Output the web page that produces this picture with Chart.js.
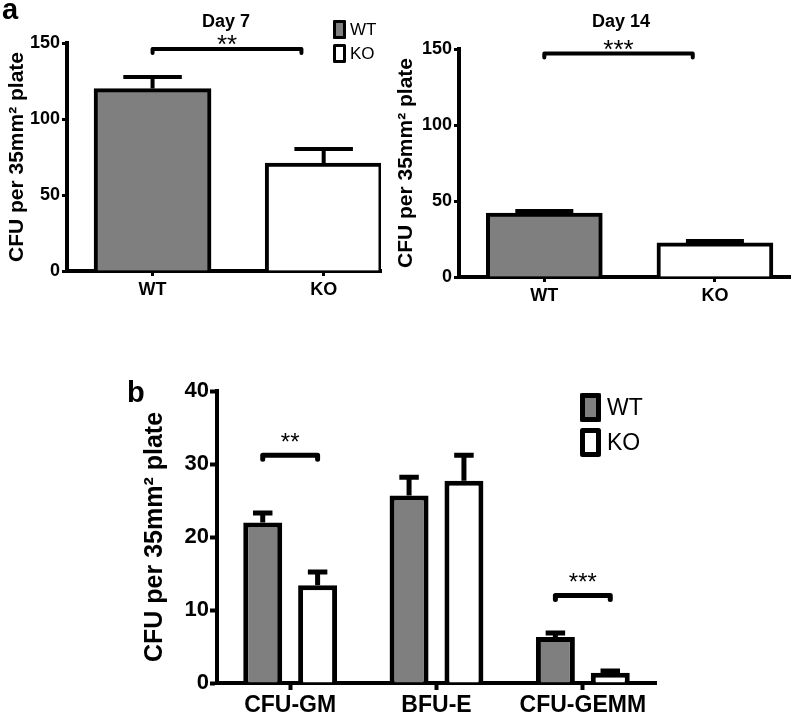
<!DOCTYPE html>
<html>
<head>
<meta charset="utf-8">
<script src="https://cdn.jsdelivr.net/npm/chart.js@4.4.1/dist/chart.umd.min.js"></script>
<style>
  body { margin: 0; background: #fff; }
  #wrap { position: relative; width: 798px; height: 716px; overflow: hidden; }
  .panel { position: absolute; }
</style>
</head>
<body>
<div id="wrap">
  <div class="panel" style="left:0;top:0;width:400px;height:310px"><canvas id="day7"></canvas></div>
  <div class="panel" style="left:396px;top:0;width:402px;height:310px"><canvas id="day14"></canvas></div>
  <div class="panel" style="left:100px;top:360px;width:600px;height:356px"><canvas id="panelB"></canvas></div>
</div>
<script>
const groups = ["WT", "KO"];
const barColors = ["#7f7f7f", "#ffffff"];
const day7Means = [120, 71];
const day7Sem = [7.6, 9.3];
const day14Means = [42, 22.4];
const day14Sem = [1.5, 1.3];
const topTicks = [0, 50, 100, 150];

const colonyTypes = ["CFU-GM", "BFU-E", "CFU-GEMM"];
const wtMeans = [22, 25.7, 6.3];
const wtSem = [1.3, 2.5, 0.55];
const koMeans = [13.4, 27.7, 1.4];
const koSem = [1.8, 3.5, 0.25];
const bottomTicks = [0, 10, 20, 30, 40];

const yTitle = "CFU per 35mm\u00b2 plate";
const FONT = "'Liberation Sans', Arial, sans-serif";

Chart.defaults.font.family = FONT;
Chart.defaults.color = "#000";

// error bars, significance brackets, titles, panel letters, legends
const decorations = {
  id: "decorations",
  afterDatasetsDraw(chart, args, opts) {
    const ctx = chart.ctx;
    const xs = chart.scales.x;
    const ys = chart.scales.y;
    ctx.save();
    ctx.strokeStyle = "#000";
    ctx.fillStyle = "#000";

    chart.data.datasets.forEach((ds, di) => {
      const meta = chart.getDatasetMeta(di);
      meta.data.forEach((bar, i) => {
        const parsed = meta.controller.getParsed(i);
        const top = ys.getPixelForValue(parsed.y + ds.sem[i]);
        ctx.lineWidth = opts.errWidth;
        ctx.lineCap = "butt";
        ctx.beginPath();
        ctx.moveTo(bar.x, bar.y);
        ctx.lineTo(bar.x, top);
        ctx.moveTo(bar.x - bar.width / 4, top);
        ctx.lineTo(bar.x + bar.width / 4, top);
        ctx.stroke();
      });
    });

    (opts.brackets || []).forEach((b) => {
      let x0, x1;
      if (b.index !== undefined) {
        x0 = chart.getDatasetMeta(0).data[b.index].x;
        x1 = chart.getDatasetMeta(1).data[b.index].x;
      } else {
        x0 = xs.getPixelForValue(b.from);
        x1 = xs.getPixelForValue(b.to);
      }
      const y = ys.getPixelForValue(b.y);
      ctx.lineWidth = opts.bracketWidth;
      ctx.lineCap = "round";
      ctx.lineJoin = "round";
      ctx.beginPath();
      ctx.moveTo(x0, y + 4);
      ctx.lineTo(x0, y);
      ctx.lineTo(x1, y);
      ctx.lineTo(x1, y + 4);
      ctx.stroke();
      ctx.font = opts.starFont;
      ctx.textAlign = "center";
      ctx.textBaseline = "alphabetic";
      ctx.fillText(b.label, (x0 + x1) / 2, y + opts.starShift);
    });

    if (opts.title) {
      ctx.font = opts.title.font;
      ctx.textAlign = "center";
      ctx.textBaseline = "middle";
      ctx.fillText(opts.title.text, opts.title.x, opts.title.y);
    }
    if (opts.letter) {
      ctx.font = opts.letter.font;
      ctx.textAlign = "left";
      ctx.textBaseline = "alphabetic";
      ctx.fillText(opts.letter.text, opts.letter.x, opts.letter.y);
    }
    if (opts.legend) {
      const L = opts.legend;
      L.items.forEach((it, k) => {
        const top = L.y + k * (L.boxH + L.gap);
        ctx.fillStyle = it.color;
        ctx.fillRect(L.x, top, L.boxW, L.boxH);
        ctx.lineWidth = L.border;
        ctx.strokeStyle = "#000";
        ctx.strokeRect(L.x + L.border / 2, top + L.border / 2, L.boxW - L.border, L.boxH - L.border);
        ctx.fillStyle = "#000";
        ctx.font = L.font;
        ctx.textAlign = "left";
        ctx.textBaseline = "middle";
        ctx.fillText(it.label, L.x + L.boxW + L.textGap, top + L.boxH / 2 + 1);
      });
    }
    ctx.restore();
  }
};

function axisCommon(tickLen, tickWidth) {
  return {
    grid: { display: true, offset: false, drawOnChartArea: false, drawTicks: true, tickLength: tickLen, tickColor: "#000", tickWidth: tickWidth },
    border: { display: true, color: "#000", width: 4 }
  };
}

function makeTopChart(id, means, sem, cfg) {
  return new Chart(document.getElementById(id), {
    type: "bar",
    data: {
      datasets: [{
        data: means.map((v, i) => ({ x: i, y: v })),
        sem: sem,
        backgroundColor: barColors,
        borderColor: "#000",
        borderWidth: 4,
        barThickness: cfg.barThickness
      }]
    },
    plugins: [decorations],
    options: {
      responsive: true,
      maintainAspectRatio: false,
      animation: false,
      devicePixelRatio: 1,
      layout: { padding: { top: cfg.top, right: cfg.right, left: 0, bottom: 0 } },
      scales: {
        x: {
          type: "linear",
          offset: false,
          min: -0.5,
          max: cfg.xMax,
          afterBuildTicks: (s) => { s.ticks = groups.map((g, i) => ({ value: i })); },
          afterFit: (s) => { s.height = cfg.xHeight; },
          ticks: { callback: (v) => groups[v], font: { size: 18, weight: "bold" }, padding: 3, maxRotation: 0 },
          ...axisCommon(5, 3)
        },
        y: {
          min: 0,
          max: 150,
          afterBuildTicks: (s) => { s.ticks = topTicks.map((v) => ({ value: v })); },
          afterFit: (s) => { s.width = cfg.yWidth; },
          ticks: { font: { size: 18, weight: "bold" }, padding: 2 },
          title: { display: true, text: yTitle, font: { size: 21, weight: "bold", lineHeight: 1 }, padding: { top: cfg.titlePad, bottom: 0 } },
          ...axisCommon(5, 3)
        }
      },
      plugins: {
        legend: { display: false },
        tooltip: { enabled: false },
        decorations: {
          errWidth: 4,
          bracketWidth: 4,
          starFont: "26px " + FONT,
          starShift: 4,
          brackets: [{ from: 0, to: 0.87, y: cfg.bracketY, label: cfg.stars }],
          title: { text: cfg.title, x: cfg.titleX, y: 22, font: "bold 18px " + FONT },
          letter: cfg.letter,
          legend: cfg.legend
        }
      }
    }
  });
}

makeTopChart("day7", day7Means, day7Sem, {
  top: 43, right: 19, yWidth: 67, xHeight: 39, xMax: 1.335, barThickness: 117,
  titlePad: 7, bracketY: 146, stars: "**",
  title: "Day 7", titleX: 226,
  letter: { text: "a", x: 2, y: 19, font: "bold 29px " + FONT },
  legend: {
    x: 333, y: 20, boxW: 13, boxH: 19, gap: 5, border: 3, textGap: 4,
    font: "17px " + FONT,
    items: groups.map((g, i) => ({ label: g, color: barColors[i] }))
  }
});

makeTopChart("day14", day14Means, day14Sem, {
  top: 49, right: 8, yWidth: 63, xHeight: 33, xMax: 1.44, barThickness: 116,
  titlePad: 0, bracketY: 147, stars: "***",
  title: "Day 14", titleX: 225,
  letter: null, legend: null
});

new Chart(document.getElementById("panelB"), {
  type: "bar",
  data: {
    labels: colonyTypes,
    datasets: [
      { label: groups[0], data: wtMeans, sem: wtSem, backgroundColor: barColors[0], borderColor: "#000", borderWidth: 5 },
      { label: groups[1], data: koMeans, sem: koSem, backgroundColor: barColors[1], borderColor: "#000", borderWidth: 5 }
    ]
  },
  plugins: [decorations],
  options: {
    responsive: true,
    maintainAspectRatio: false,
    animation: false,
    devicePixelRatio: 1,
    categoryPercentage: 0.75,
    barPercentage: 0.71,
    layout: { padding: { top: 31, right: 44, left: 0, bottom: 0 } },
    scales: {
      x: {
        afterFit: (s) => { s.height = 33; },
        ticks: { font: { size: 23, weight: "bold" }, padding: 2, maxRotation: 0 },
        ...axisCommon(7, 4)
      },
      y: {
        min: 0,
        max: 40,
        afterBuildTicks: (s) => { s.ticks = bottomTicks.map((v) => ({ value: v })); },
        afterFit: (s) => { s.width = 117; },
        ticks: { font: { size: 22, weight: "bold" }, padding: 1 },
        title: { display: true, text: yTitle, font: { size: 25, weight: "bold", lineHeight: 1 }, padding: { top: 42.5, bottom: 0 } },
        ...axisCommon(7, 4)
      }
    },
    plugins: {
      legend: { display: false },
      tooltip: { enabled: false },
      decorations: {
        errWidth: 5,
        bracketWidth: 5,
        starFont: "24px " + FONT,
        starShift: -5,
        brackets: [
          { index: 0, y: 31.2, label: "**" },
          { index: 2, y: 12, label: "***" }
        ],
        letter: { text: "b", x: 27, y: 42, font: "bold 29px " + FONT },
        legend: {
          x: 480, y: 33, boxW: 21, boxH: 29, gap: 6, border: 5, textGap: 6,
          font: "23px " + FONT,
          items: groups.map((g, i) => ({ label: g, color: barColors[i] }))
        }
      }
    }
  }
});
</script>
</body>
</html>
